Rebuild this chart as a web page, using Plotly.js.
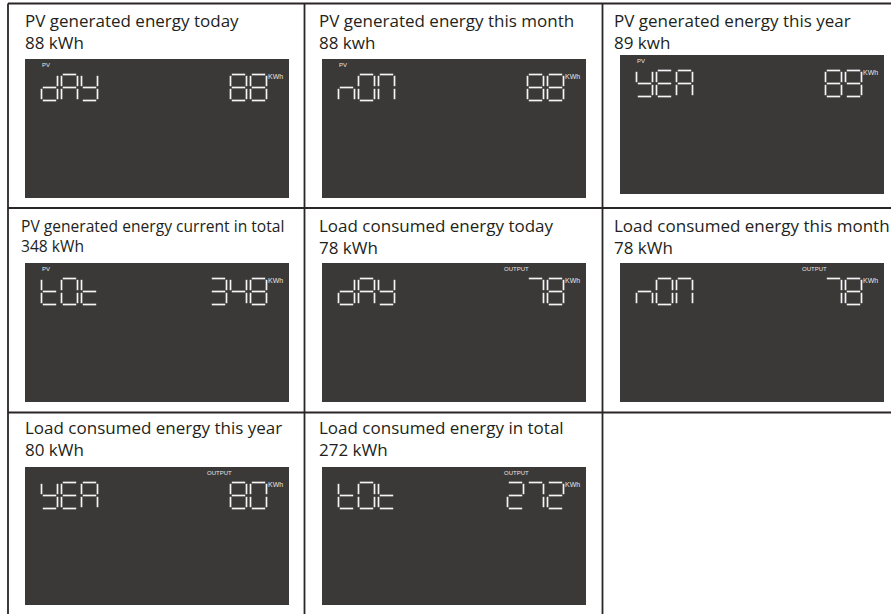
<!DOCTYPE html>
<html>
<head>
<meta charset="utf-8">
<script src="https://cdn.plot.ly/plotly-3.0.1.min.js"></script>
<style>html,body{margin:0;padding:0;background:#fff}#chart{width:892px;height:614px}</style>
</head>
<body>
<div id="chart"></div>
<script>
// ---- data ----
const titles = [
  "PV generated energy today",
  "PV generated energy this month",
  "PV generated energy this year",
  "PV generated energy current in total",
  "Load consumed energy today",
  "Load consumed energy this month",
  "Load consumed energy this year",
  "Load consumed energy in total"
];
const values = [88, 88, 89, 348, 78, 78, 80, 272];
const units = ["kWh", "kwh", "kwh", "kWh", "kWh", "kWh", "kWh", "kWh"];
const lcdLabels = ["dAY", "nON", "YEA", "tOt", "dAY", "nON", "YEA", "tOt"];
const sources = ["PV", "PV", "PV", "PV", "OUTPUT", "OUTPUT", "OUTPUT", "OUTPUT"];
const lcdUnit = "KWh";

// ---- layout geometry (pixels) ----
const colLeft = [25, 322, 620], colRight = [289, 586, 884];
const rowTop = [59, 263, 467], rowBottom = [198, 402, 605];
const titleX = [24, 318, 613];
const rowBase = [27.5, 232.5, 434.5];
const PANEL = "#3b3838", SEGC = "#f4f4f4", LINE = "#2a2526";

const W = 16, H = 26, G = 1.3, PITCH = 20;
const SEG = {
  a: [[G, 0], [W - G, 0]], b: [[W, G], [W, H / 2 - G]], c: [[W, H / 2 + G], [W, H - G]],
  d: [[G, H], [W - G, H]], e: [[0, H / 2 + G], [0, H - G]], f: [[0, G], [0, H / 2 - G]],
  g: [[G, H / 2], [W - G, H / 2]]
};
const GLYPH = {'0':'abcdef','1':'bc','2':'abdeg','3':'abcdg','4':'bcfg','5':'acdfg','6':'acdefg',
  '7':'abc','8':'abcdefg','9':'abcdfg','d':'bcdeg','A':'abcefg','Y':'bcdfg','n':'ceg',
  'O':'abcdef','N':'abcef','E':'adefg','t':'defg'};

const shapes = [], segShapes = [], annotations = [];
function drawGlyph(ch, x0, y0) {
  const s = GLYPH[ch] || '';
  for (const k of s) {
    const p = SEG[k];
    segShapes.push({type: 'line', xref: 'x', yref: 'y',
      x0: x0 + p[0][0], y0: y0 + p[0][1], x1: x0 + p[1][0], y1: y0 + p[1][1],
      line: {color: SEGC, width: 1.7}, layer: 'above'});
  }
}

for (let i = 0; i < titles.length; i++) {
  const r = Math.floor(i / 3), c = i % 3;
  let pl = colLeft[c], pr = colRight[c], pt = rowTop[r], pb = rowBottom[r];
  if (i === 2) { pt -= 4; pb -= 4; }
  shapes.push({type: 'rect', xref: 'x', yref: 'y', x0: pl, x1: pr, y0: pt, y1: pb,
    fillcolor: PANEL, line: {width: 0}, layer: 'below'});
  const gy = pt + 15.5;
  const lab = lcdLabels[i];
  for (let j = 0; j < lab.length; j++) drawGlyph(lab[j], pl + 16.5 + j * PITCH, gy);
  const v = String(values[i]);
  for (let j = 0; j < v.length; j++) drawGlyph(v[j], pr - 22.5 - W - (v.length - 1 - j) * PITCH, gy);

  const tx = (i === 3) ? 20 : titleX[c];
  const fs = (i === 3) ? 15.6 : 17;
  const lh = 1.3 * fs;
  const b0 = rowBase[r] + (fs - 17) * 0.4;
  annotations.push({x: tx, y: b0 + lh / 2 - 6.6 * fs / 17, xref: 'x', yref: 'y', xanchor: 'left', yanchor: 'middle',
    text: titles[i] + '<br>' + values[i] + ' ' + units[i], align: 'left', showarrow: false,
    font: {family: 'Open Sans', size: fs, color: '#231f20'}, borderpad: 0});
  const srcX = sources[i] === 'PV' ? pl + 16 : pl + 181;
  annotations.push({x: srcX, y: pt + 6, xref: 'x', yref: 'y', xanchor: 'left', yanchor: 'middle',
    text: sources[i], showarrow: false, font: {family: 'Liberation Sans', size: 6, color: '#e6e6e6'}, borderpad: 0});
  annotations.push({x: pr - 22, y: gy + 2, xref: 'x', yref: 'y', xanchor: 'left', yanchor: 'middle',
    text: lcdUnit, showarrow: false, font: {family: 'Liberation Sans', size: 7, color: '#e6e6e6'}, borderpad: 0});
}

// table rules
const rules = [
  [8, 3.5, 891, 3.5], [8, 3.5, 8, 614], [304.5, 3.5, 304.5, 614], [602.5, 3.5, 602.5, 614],
  [8, 208, 891, 208], [8, 412.5, 891, 412.5]
];
for (const q of rules) shapes.push({type: 'line', xref: 'x', yref: 'y', x0: q[0], y0: q[1], x1: q[2], y1: q[3],
  line: {color: LINE, width: 1.8}, layer: 'below'});

const trace = {x: [], y: [], type: 'scatter', mode: 'lines', hoverinfo: 'skip', showlegend: false};

const layout = {
  width: 892, height: 614, margin: {l: 0, r: 0, t: 0, b: 0},
  paper_bgcolor: '#ffffff', plot_bgcolor: '#ffffff',
  xaxis: {range: [0, 892], visible: false, fixedrange: true},
  yaxis: {range: [614, 0], visible: false, fixedrange: true},
  shapes: shapes.concat(segShapes), annotations: annotations, showlegend: false
};
Plotly.newPlot('chart', [trace], layout, {displayModeBar: false, staticPlot: true});
</script>
</body>
</html>
